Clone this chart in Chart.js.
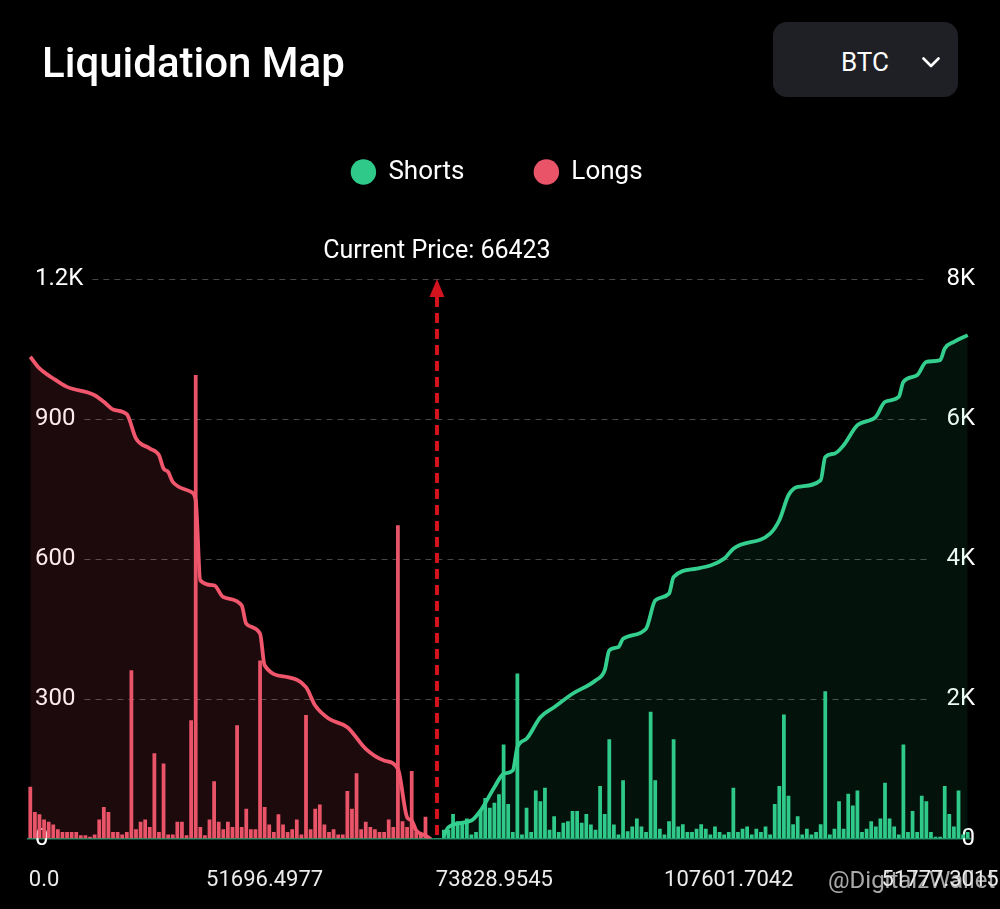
<!DOCTYPE html>
<html>
<head>
<meta charset="utf-8">
<script src="https://cdn.jsdelivr.net/npm/chart.js@4.4.1/dist/chart.umd.min.js"></script>
<style>
  html, body { margin: 0; padding: 0; background: #000; overflow: hidden; width: 1000px; height: 909px; }
  #wrap { position: absolute; left: 0; top: 0; width: 1000px; height: 930px; }
  #title { position: absolute; left: 42px; top: 42px; margin: 0; font: 500 42px Roboto, sans-serif; line-height: 42px; color: #fff; }
  #coin { position: absolute; left: 773px; top: 22px; width: 185px; height: 75px; border-radius: 14px; background: #1e2026; }
  #coin span { position: absolute; left: 68px; top: 27px; font: 400 26px Roboto, sans-serif; line-height: 26px; color: #fff; }
  #coin svg { position: absolute; left: 149px; top: 35px; }
  #wm { position: absolute; left: 828px; top: 866px; font: 400 24px Roboto, sans-serif; color: rgba(225,225,225,0.75); white-space: nowrap; }
</style>
</head>
<body>
<div id="wrap"><canvas id="chart"></canvas></div>
<h1 id="title">Liquidation Map</h1>
<div id="coin"><span>BTC</span>
  <svg width="18" height="11" viewBox="0 0 18 11"><polyline points="1.5,1.5 9,9 16.5,1.5" fill="none" stroke="#fff" stroke-width="2.6" stroke-linecap="round" stroke-linejoin="round"/></svg>
</div>
<div id="wm">@DigitalzWallet</div>
<script>
// ---------------- DATA ----------------
const currentPrice = 66423;

// Long liquidation bars (left axis), price bins below the current price
const longsBars = [111, 57, 52, 41, 36, 30, 20, 14, 14, 14, 14, 7, 7, 4, 9, 41, 68, 57, 14, 14,
  9, 14, 361, 20, 36, 41, 25, 183, 14, 161, 9, 9, 36, 36, 7, 254, 994, 25, 7, 41,
  123, 36, 20, 36, 25, 243, 25, 64, 20, 20, 382, 68, 30, 14, 52, 30, 14, 20, 41, 9,
  265, 20, 64, 73, 30, 14, 20, 9, 9, 102, 64, 140, 20, 36, 25, 20, 14, 14, 41, 25,
  672, 37, 25, 145, 14, 9, 47, 3];

// Empty price bins around the current price
const gapSlots = 2;

// Short liquidation bars (left axis), price bins above the current price
const shortsBars = [19, 19, 53, 37, 34, 43, 9, 14, 59, 87, 66, 77, 95, 202, 74, 14, 354, 9, 66, 14,
  103, 80, 109, 19, 48, 14, 34, 37, 59, 59, 34, 53, 30, 19, 113, 53, 213, 30,
  9, 125, 16, 26, 43, 26, 14, 272, 125, 21, 9, 37, 213, 26, 31, 14, 14, 21, 31, 21, 9, 26,
  14, 9, 14, 109, 14, 21, 26, 9, 21, 14, 26, 9, 74, 113, 266, 92, 31, 48,
  9, 21, 9, 14, 31, 316, 9, 21, 80, 21, 96, 71, 103, 14, 21, 37, 26, 43, 120, 43,
  26, 9, 202, 14, 59, 14, 92, 80, 14, 4, 4, 113, 53, 26, 103, 9, 14];

// Cumulative long liquidations (right axis): [bin index, value]
const longsCumulative = [[0, 6888], [2, 6721], [5, 6578], [8, 6458], [14, 6339], [16, 6244], [18, 6135],
  [21, 6067], [23, 5720], [26, 5577], [28, 5481], [29, 5290], [30, 5242], [31, 5099], [35, 4956],
  [36, 4837], [37, 3692], [40, 3620], [42, 3453], [46, 3334], [47, 3072], [50, 2929], [51, 2476],
  [56, 2308], [60, 2165], [62, 1903], [65, 1713], [69, 1593], [73, 1284], [77, 1116], [80, 998],
  [82, 305], [83, 258], [84, 114], [86, 43], [87, 0]];

// Cumulative short liquidations (right axis): [bin index, value]
const shortsCumulative = [[90, 40], [91, 162], [96, 258], [98, 401], [101, 734], [103, 926], [105, 973],
  [106, 1307], [108, 1427], [111, 1736], [114, 1879], [118, 2071], [123, 2261], [125, 2404],
  [126, 2690], [128, 2738], [129, 2858], [134, 3001], [136, 3406], [139, 3502], [140, 3739],
  [145, 3859], [151, 4002], [153, 4145], [161, 4360], [163, 4551], [165, 4908], [167, 5027],
  [172, 5123], [173, 5456], [175, 5504], [177, 5624], [180, 5910], [184, 6029], [186, 6244],
  [189, 6315], [190, 6530], [193, 6626], [195, 6816], [198, 6840], [199, 7008], [201, 7102], [204, 7198]];

// X tick labels shown (bin index -> text)
const xTickIndex = [3, 51, 101, 152, 198];
const xTickText = ['0.0', '51696.4977', '73828.9545', '107601.7042', '51777.3015'];

// Y axes
const leftMax = 1200, leftStep = 300;
const rightMax = 8000, rightStep = 2000;

// ---------------- BUILD ----------------
const binCount = longsBars.length + gapSlots + shortsBars.length;
const bins = [];
for (let i = 0; i < binCount; i++) bins.push(i);
const longsData = longsBars.concat(new Array(gapSlots + shortsBars.length).fill(null));
const shortsData = new Array(longsBars.length + gapSlots).fill(null).concat(shortsBars);
const toPts = arr => arr.map(([x, y]) => ({ x, y }));

const C = {
  red: '#ea5468', redLine: '#f0566c', redFill: 'rgba(232,84,100,0.12)',
  green: '#2fc98a', greenLine: '#34cf8e', greenFill: 'rgba(46,200,135,0.09)',
  price: '#d3141f'
};

Chart.defaults.font.family = 'Roboto, "Noto Sans", sans-serif';
Chart.defaults.color = '#ffffff';

const fmtK = v => (v >= 1000 ? (v / 1000) + 'K' : String(v));

const overlay = {
  id: 'overlay',
  beforeDatasetsDraw(chart) {
    const { ctx, chartArea, scales } = chart;
    const yl = scales.y, yr = scales.yR;
    ctx.save();
    ctx.font = '24px Roboto, sans-serif';
    ctx.strokeStyle = 'rgba(255,255,255,0.28)';
    ctx.lineWidth = 1;
    ctx.setLineDash([6, 5]);
    yl.ticks.forEach((t, i) => {
      if (t.value === 0) return;
      const py = Math.round(yl.getPixelForValue(t.value)) + 0.5;
      const lw = ctx.measureText(t.label).width;
      const rt = yr.ticks[i] ? yr.ticks[i].label : '';
      const rw = ctx.measureText(rt).width;
      ctx.beginPath();
      ctx.moveTo(chartArea.left + 7 + lw + 9, py);
      ctx.lineTo(chartArea.right - 5 - rw - 9, py);
      ctx.stroke();
    });
    ctx.restore();
  },
  afterDatasetsDraw(chart) {
    const { ctx, chartArea, scales } = chart;
    const xs = scales.x;
    const lastLong = longsBars.length - 1;
    const firstShort = longsBars.length + gapSlots;
    const px = (xs.getPixelForValue(lastLong) + xs.getPixelForValue(firstShort)) / 2;
    const top = chartArea.top, bottom = chartArea.bottom;
    ctx.save();
    ctx.fillStyle = C.price;
    ctx.beginPath();
    ctx.moveTo(px, top);
    ctx.lineTo(px + 7.5, top + 18);
    ctx.lineTo(px - 7.5, top + 18);
    ctx.closePath();
    ctx.fill();
    ctx.strokeStyle = C.price;
    ctx.lineWidth = 4;
    ctx.setLineDash([10, 6]);
    ctx.beginPath();
    ctx.moveTo(px, top + 18);
    ctx.lineTo(px, bottom);
    ctx.stroke();
    ctx.setLineDash([]);
    ctx.fillStyle = '#ffffff';
    ctx.font = '25px Roboto, sans-serif';
    ctx.textAlign = 'center';
    ctx.textBaseline = 'middle';
    ctx.fillText('Current Price: ' + currentPrice, px, top - 27);
    ctx.restore();
  }
};

new Chart(document.getElementById('chart'), {
  data: {
    labels: bins,
    datasets: [
      { type: 'bar', label: 'Shorts', data: shortsData, yAxisID: 'y', backgroundColor: C.green,
        borderWidth: 0, grouped: false, barPercentage: 0.82, categoryPercentage: 1, order: 1 },
      { type: 'bar', label: 'Longs', data: longsData, yAxisID: 'y', backgroundColor: C.red,
        borderWidth: 0, grouped: false, barPercentage: 0.82, categoryPercentage: 1, order: 1 },
      { type: 'line', label: 'Longs cumulative', data: toPts(longsCumulative), yAxisID: 'yR',
        borderColor: C.redLine, backgroundColor: C.redFill, fill: 'origin', borderWidth: 3.8,
        pointRadius: 0, cubicInterpolationMode: 'monotone', order: 0 },
      { type: 'line', label: 'Shorts cumulative', data: toPts(shortsCumulative), yAxisID: 'yR',
        borderColor: C.greenLine, backgroundColor: C.greenFill, fill: 'origin', borderWidth: 3.8,
        pointRadius: 0, cubicInterpolationMode: 'monotone', order: 0 }
    ]
  },
  options: {
    responsive: true,
    maintainAspectRatio: false,
    animation: false,
    events: [],
    layout: { padding: { left: 14, right: 20, top: 89, bottom: 7 } },
    plugins: {
      filler: { drawTime: 'beforeDatasetsDraw' },
      tooltip: { enabled: false },
      legend: {
        position: 'top',
        labels: {
          usePointStyle: true, pointStyle: 'circle', boxWidth: 24, boxHeight: 18,
          padding: 70, color: '#ffffff', font: { size: 26 },
          filter: item => item.datasetIndex < 2
        }
      },
      title: { display: false },
      subtitle: { display: true, text: '', weight: 500, font: { size: 10 }, padding: { top: 0, bottom: 72 } }
    },
    scales: {
      x: {
        type: 'category',
        offset: true,
        grid: { display: false, drawTicks: false },
        border: { display: true, color: 'rgba(46,189,133,0.75)', width: 1.5 },
        ticks: {
          autoSkip: false, maxRotation: 0, minRotation: 0, padding: 29, color: '#ececec',
          font: { size: 22 },
          callback: (v, i) => { const k = xTickIndex.indexOf(i); return k >= 0 ? xTickText[k] : ''; }
        }
      },
      y: {
        position: 'left', min: 0, max: leftMax,
        grid: { display: false, drawTicks: false },
        border: { display: false },
        ticks: { stepSize: leftStep, mirror: true, padding: 7, color: '#ffffff', font: { size: 24 }, callback: fmtK }
      },
      yR: {
        position: 'right', min: 0, max: rightMax,
        grid: { display: false, drawTicks: false },
        border: { display: false },
        ticks: { stepSize: rightStep, mirror: true, padding: 5, color: '#ffffff', font: { size: 24 }, callback: fmtK }
      }
    }
  },
  plugins: [overlay]
});
</script>
</body>
</html>
